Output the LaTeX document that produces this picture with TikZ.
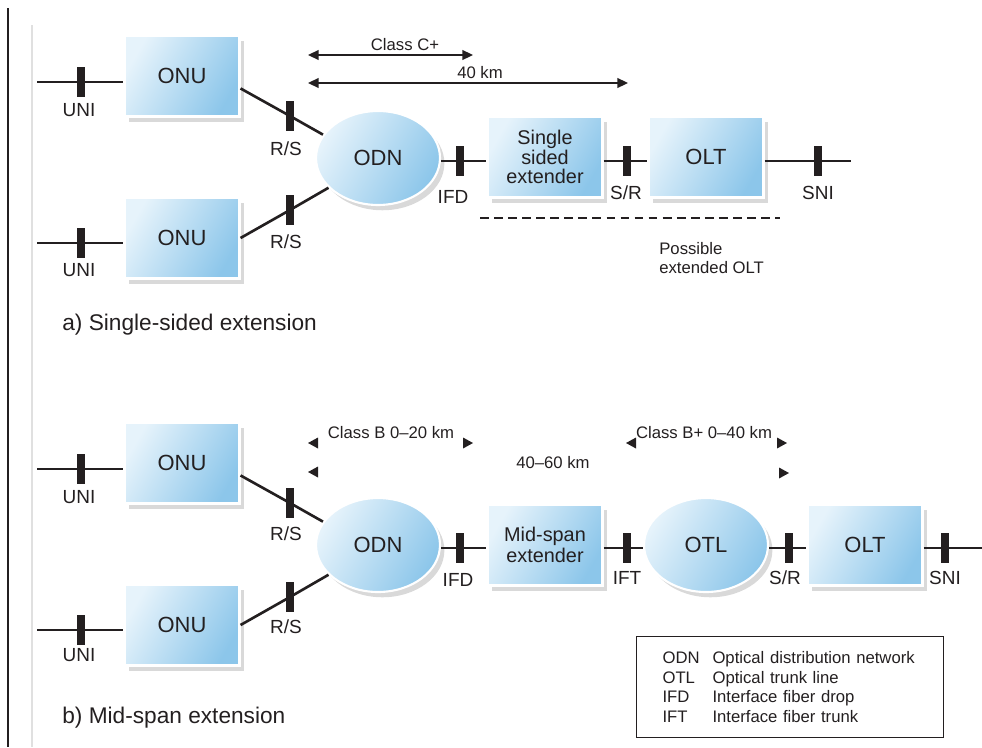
\documentclass[tikz,border=0pt]{standalone}
\usepackage{fontspec}
\setmainfont{Liberation Sans}
\usepackage{tikz}
\usetikzlibrary{arrows.meta,positioning,shapes.geometric,shadows}
\definecolor{ink}{HTML}{231F20}
\definecolor{skyhi}{HTML}{E6F3FB}
\definecolor{skylo}{HTML}{8CC6EA}
\newcommand\tipleft[1]{\fill[ink] (#1) -- ++(10,-5.5) -- ++(0,11) -- cycle;}
\newcommand\tipright[1]{\fill[ink] (#1) -- ++(-10,-5.5) -- ++(0,11) -- cycle;}

\begin{document}
\begin{tikzpicture}[x=0.02cm,y=-0.02cm,
  unit/.style={rectangle,draw=white,line width=1.2pt,top color=skyhi,bottom color=skylo,shading angle=60,drop shadow={shadow xshift=2.5pt,shadow yshift=-3pt,opacity=0.3},minimum width=2.3cm,minimum height=1.62cm,align=center,text=ink,font=\fontsize{12.5}{14}\selectfont,inner sep=2pt},
  net/.style={unit,ellipse,minimum width=2.48cm,minimum height=1.88cm},
  bar/.style={rectangle,fill=ink,minimum width=0.17cm,minimum height=0.6cm,inner sep=0pt,outer sep=0pt},
  wire/.style={ink,line width=1.5pt},
  port/.style={text=ink,font=\fontsize{10.8}{12}\selectfont,inner sep=0pt},
  span/.style={ink,line width=1pt,{Triangle[length=6pt,width=5.5pt]}-{Triangle[length=6pt,width=5.5pt]}},
  note/.style={text=ink,font=\fontsize{9.5}{11.3}\selectfont,inner sep=0pt},
  heading/.style={text=ink,font=\fontsize{12.9}{15}\selectfont,anchor=west,inner sep=0pt}]
\useasboundingbox (0,0) rectangle (982,747);
\coordinate (ruleT) at (8,8);
\coordinate (ruleB) at (8,747);
\draw[ink,line width=1.2pt] (ruleT) -- (ruleB);
\coordinate (faintT) at (32,25);
\coordinate (faintB) at (32,747);
\draw[black!12,line width=0.8pt] (faintT) -- (faintB);

\node[unit] (onuA1) at (182,76) {ONU};
\node[unit] (onuA2) at (182,238) {ONU};
\node[net] (odnA) at (378,158) {ODN};
\node[unit,font=\fontsize{11.3}{11}\selectfont] (extA) at (545,157) {Single\\sided\\extender};
\node[unit] (oltA) at (706,157) {OLT};
\node[bar] (uniA1) at (81,82) {};
\node[bar] (uniA2) at (81,243) {};
\node[bar] (rsA1) at (290,116) {};
\node[bar] (rsA2) at (290,210) {};
\node[bar] (ifdA) at (460,161) {};
\node[bar] (srA) at (627,161) {};
\node[bar] (sniA) at (818,161) {};
\coordinate (inA1) at (37,82);
\coordinate (inA2) at (37,243);
\coordinate (outA) at (851,161);
\draw[wire] (inA1) -- (uniA1.center) -- (onuA1.west |- uniA1);
\draw[wire] (inA2) -- (uniA2.center) -- (onuA2.west |- uniA2);
\draw[wire] (onuA1.-12) -- (rsA1.center) -- (odnA.157);
\draw[wire] (onuA2.east) -- (rsA2.center) -- (odnA.211);
\draw[wire] (odnA.east |- ifdA) -- (ifdA.center) -- (extA.west |- ifdA);
\draw[wire] (extA.east |- srA) -- (srA.center) -- (oltA.west |- srA);
\draw[wire] (oltA.east |- sniA) -- (sniA.center) -- (outA);
\node[port] (uniA1t) at (79,110) {UNI};
\node[port] (uniA2t) at (79,270) {UNI};
\node[port] (rsA1t) at (286,149) {R/S};
\node[port] (rsA2t) at (286,242) {R/S};
\node[port] (ifdAt) at (453,197) {IFD};
\node[port] (srAt) at (626,193) {S/R};
\node[port] (sniAt) at (818,193) {SNI};
\coordinate (cA0) at (308,55);
\coordinate (cA1) at (473,55);
\draw[span] (cA0) -- (cA1);
\node[note] (cAt) at (405,45) {Class C+};
\coordinate (kA0) at (308,83);
\coordinate (kA1) at (628,83);
\draw[span] (kA0) -- (kA1);
\node[note] (kAt) at (480,73) {40 km};
\coordinate (dA0) at (480,218);
\coordinate (dA1) at (780,218);
\draw[ink,line width=1pt,dash pattern=on 5pt off 3pt] (dA0) -- (dA1);
\node[note,align=left,anchor=west] (possA) at (659,258) {Possible\\extended OLT};
\node[heading] (capA) at (62,325) {a) Single-sided extension};

\node[unit] (onuB1) at (182,463) {ONU};
\node[unit] (onuB2) at (182,625) {ONU};
\node[net] (odnB) at (378,545) {ODN};
\node[unit,font=\fontsize{11.3}{10.5}\selectfont] (midB) at (545,545) {Mid-span\\extender};
\node[net] (otlB) at (706,545) {OTL};
\node[unit] (oltB) at (865,545) {OLT};
\node[bar] (uniB1) at (81,469) {};
\node[bar] (uniB2) at (81,630) {};
\node[bar] (rsB1) at (290,503) {};
\node[bar] (rsB2) at (290,597) {};
\node[bar] (ifdB) at (460,548) {};
\node[bar] (iftB) at (627,548) {};
\node[bar] (srB) at (789,548) {};
\node[bar] (sniB) at (945,548) {};
\coordinate (inB1) at (37,469);
\coordinate (inB2) at (37,630);
\coordinate (outB) at (982,548);
\draw[wire] (inB1) -- (uniB1.center) -- (onuB1.west |- uniB1);
\draw[wire] (inB2) -- (uniB2.center) -- (onuB2.west |- uniB2);
\draw[wire] (onuB1.-12) -- (rsB1.center) -- (odnB.157);
\draw[wire] (onuB2.east) -- (rsB2.center) -- (odnB.211);
\draw[wire] (odnB.east |- ifdB) -- (ifdB.center) -- (midB.west |- ifdB);
\draw[wire] (midB.east |- iftB) -- (iftB.center) -- (otlB.west |- iftB);
\draw[wire] (otlB.east |- srB) -- (srB.center) -- (oltB.west |- srB);
\draw[wire] (oltB.east |- sniB) -- (sniB.center) -- (outB);
\node[port] (uniB1t) at (79,497) {UNI};
\node[port] (uniB2t) at (79,655) {UNI};
\node[port] (rsB1t) at (286,534) {R/S};
\node[port] (rsB2t) at (286,627) {R/S};
\node[port] (ifdBt) at (458,580) {IFD};
\node[port] (iftBt) at (627,578) {IFT};
\node[port] (srBt) at (785,578) {S/R};
\node[port] (sniBt) at (945,578) {SNI};
\coordinate (bL1) at (308,443);
\coordinate (bR1) at (473,443);
\coordinate (bL2) at (308,472);
\coordinate (pL1) at (626,443);
\coordinate (pR1) at (787,443);
\coordinate (pR2) at (789,473);
\tipleft{bL1}
\tipright{bR1}
\tipleft{bL2}
\tipleft{pL1}
\tipright{pR1}
\tipright{pR2}
\node[note] (bAt) at (391,433) {Class B 0–20 km};
\node[note] (pAt) at (704,433) {Class B+ 0–40 km};
\node[note] (mAt) at (553,463) {40–60 km};
\node[note,draw=ink,line width=0.9pt,minimum width=6.14cm,minimum height=2.02cm,text width=5.1cm,align=left] (legend) at (790,687) {\makebox[1cm][l]{ODN}Optical distribution network\\\makebox[1cm][l]{OTL}Optical trunk line\\\makebox[1cm][l]{IFD}Interface fiber drop\\\makebox[1cm][l]{IFT}Interface fiber trunk};
\node[heading] (capB) at (62,718) {b) Mid-span extension};
\end{tikzpicture}
\end{document}
